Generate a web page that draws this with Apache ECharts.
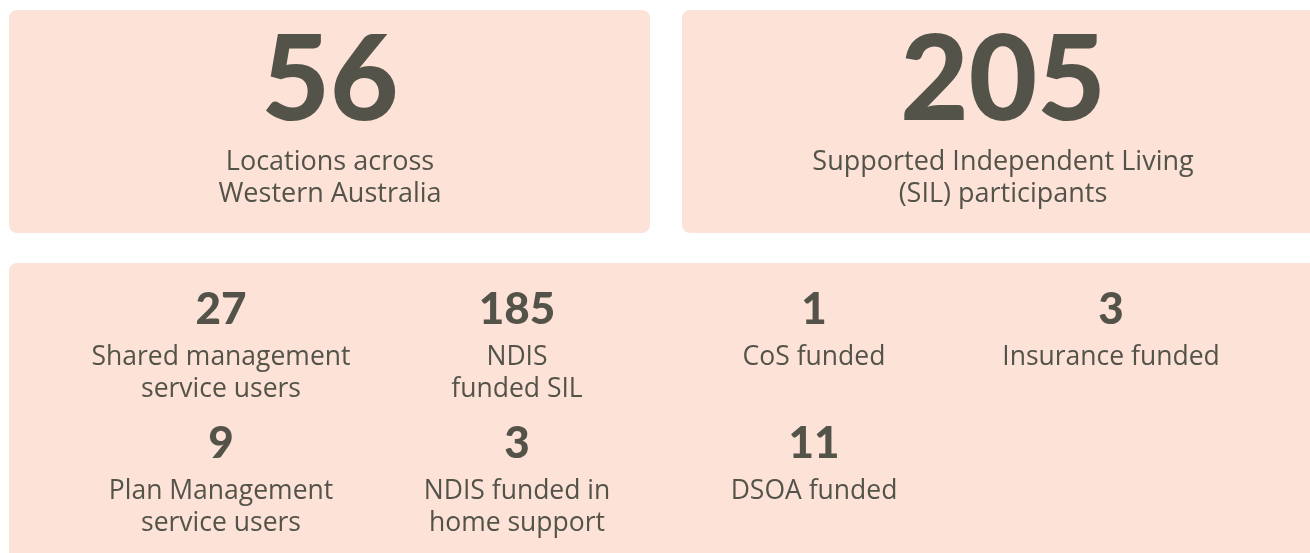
<!DOCTYPE html>
<html>
<head>
<meta charset="utf-8">
<script src="https://cdn.jsdelivr.net/npm/echarts@6/dist/echarts.min.js"></script>
<style>
html,body{margin:0;padding:0;background:#ffffff;}
#chart{width:1310px;height:553px;}
</style>
</head>
<body>
<div id="chart"></div>
<script>
// ---- data ----
const headlineValues = ['56', '205'];
const headlineLabels = [
  ['Locations across', 'Western Australia'],
  ['Supported Independent Living', '(SIL) participants']
];
const statValues = ['27', '185', '1', '3', '9', '3', '11'];
const statLabels = [
  ['Shared management', 'service users'],
  ['NDIS', 'funded SIL'],
  ['CoS funded'],
  ['Insurance funded'],
  ['Plan Management', 'service users'],
  ['NDIS funded in', 'home support'],
  ['DSOA funded']
];

// ---- styling / layout ----
const PANEL = '#fce2d7';
const INK = '#54534a';
const NUMFONT = 'Lato, "Noto Sans", sans-serif';
const TXTFONT = '"Open Sans", "Noto Sans", sans-serif';

const topPanels = [
  { x: 9, y: 10, w: 641, h: 223, r: [8, 8, 8, 8], cx: 330 },
  { x: 682, y: 10, w: 660, h: 223, r: [8, 0, 0, 8], cx: 1003 }
];
const bottomPanel = { x: 9, y: 263, w: 1330, h: 320, r: [8, 0, 0, 0] };
const colX = [221, 517, 814, 1111];
const rowStep = 134;

const chart = echarts.init(document.getElementById('chart'), null, { renderer: 'canvas' });
const els = [];

topPanels.forEach(p => {
  els.push({ type: 'rect', shape: { x: p.x, y: p.y, width: p.w, height: p.h, r: p.r }, style: { fill: PANEL }, z: 1 });
});
els.push({ type: 'rect', shape: { x: bottomPanel.x, y: bottomPanel.y, width: bottomPanel.w, height: bottomPanel.h, r: bottomPanel.r }, style: { fill: PANEL }, z: 1 });

headlineValues.forEach((v, i) => {
  const cx = topPanels[i].cx;
  els.push({ type: 'text', x: cx, y: 82, z: 2, style: {
    text: v, fill: INK, font: '900 118px ' + NUMFONT, textAlign: 'center', textVerticalAlign: 'middle' } });
  headlineLabels[i].forEach((t, j) => {
    els.push({ type: 'text', x: cx, y: 162 + j * 32, z: 2, style: {
      text: t, fill: INK, font: '400 27px ' + TXTFONT, textAlign: 'center', textVerticalAlign: 'middle' } });
  });
});

statValues.forEach((v, i) => {
  const cx = colX[i % 4];
  const row = Math.floor(i / 4);
  els.push({ type: 'text', x: cx, y: 310 + row * rowStep, z: 2, style: {
    text: v, fill: INK, font: '900 44px ' + NUMFONT, textAlign: 'center', textVerticalAlign: 'middle' } });
  statLabels[i].forEach((t, j) => {
    els.push({ type: 'text', x: cx, y: 357 + row * rowStep + j * 32, z: 2, style: {
      text: t, fill: INK, font: '400 26.5px ' + TXTFONT, textAlign: 'center', textVerticalAlign: 'middle' } });
  });
});

chart.setOption({
  backgroundColor: '#ffffff',
  animation: false,
  graphic: { elements: els }
});
</script>
</body>
</html>
